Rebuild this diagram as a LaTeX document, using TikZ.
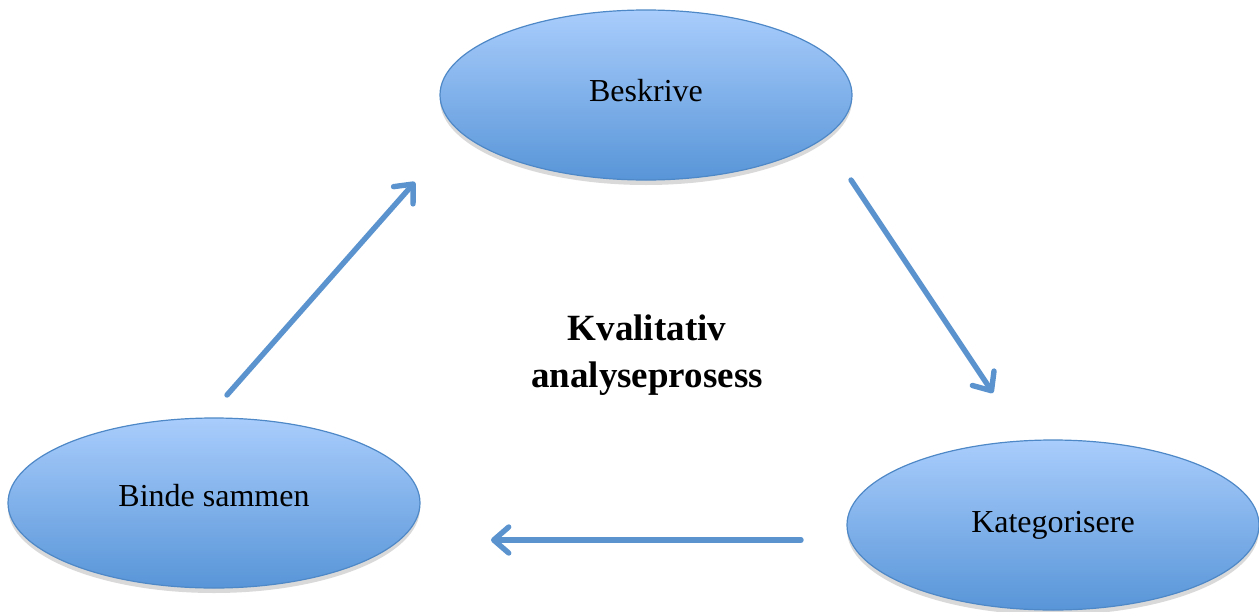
\documentclass[tikz,border=0pt]{standalone}
\usepackage{fontspec}
\setmainfont{Liberation Serif}
\usetikzlibrary{shapes.geometric,arrows.meta,shadows}
\definecolor{ellborder}{HTML}{4F88C6}
\definecolor{elltop}{HTML}{A9CDFC}
\definecolor{ellbot}{HTML}{5895D8}
\definecolor{arrowblue}{HTML}{5B93CF}
\tikzset{
  x=0.5pt, y=-0.5pt,
  stage/.style={ellipse, draw=ellborder, line width=0.6pt, top color=elltop, bottom color=ellbot,
    minimum width=206pt, minimum height=85pt, inner sep=0pt,
    font=\fontsize{16}{19}\selectfont,
    drop shadow={shadow xshift=0pt, shadow yshift=-2.5pt, opacity=0.25, fill=black!60}},
  conn/.style={draw=arrowblue, line width=2.7pt, line cap=round,
    -{Straight Barb[length=7.5pt, width=13pt, line width=2.7pt, round]}},
  title/.style={font=\bfseries\fontsize{18.5}{23.5}\selectfont, align=center}
}
\begin{document}
\begin{tikzpicture}
\useasboundingbox (0,0) rectangle (1259,611);
\node[stage] (besk) at (646,95) {\raisebox{5pt}{Beskrive}};
\node[stage] (kat) at (1053,525) {\raisebox{1pt}{Kategorisere}};
\node[stage] (binde) at (214,503) {\raisebox{8pt}{Binde sammen}};
\node[title] (center) at (647,355) {Kvalitativ\\analyseprosess};
\coordinate (a1s) at (227,395);
\coordinate (a1e) at (415,182);
\coordinate (a2s) at (851,180);
\coordinate (a2e) at (993,393);
\coordinate (a3s) at (801,540);
\coordinate (a3e) at (491,540);
\draw[conn] (a1s) -- (a1e);
\draw[conn] (a2s) -- (a2e);
\draw[conn] (a3s) -- (a3e);
\end{tikzpicture}
\end{document}
